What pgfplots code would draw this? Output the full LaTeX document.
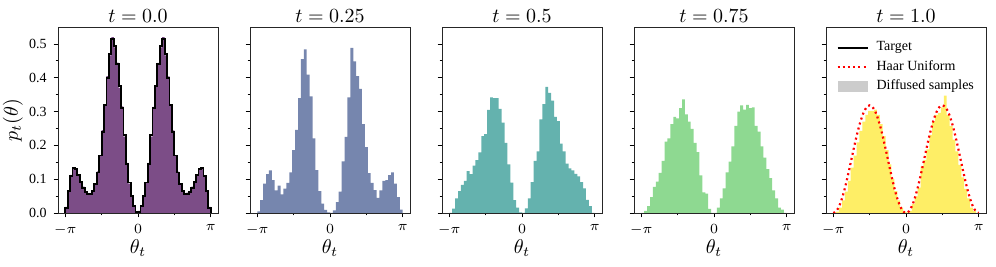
\documentclass[border=0pt]{standalone}
\usepackage{pgfplots}
\pgfplotsset{compat=1.18}
\usepackage{pgfplotstable}
\usepackage{fontspec}
\newfontfamily\tms{Liberation Serif}
\definecolor{c0}{HTML}{7C4D87}
\definecolor{c1}{HTML}{7686AE}
\definecolor{c2}{HTML}{64B2AE}
\definecolor{c3}{HTML}{8ED991}
\definecolor{c4}{HTML}{FEEE66}

% 50-bin histograms for t = 0.25, 0.5, 0.75, 1.0 (left bin edges; last row closes the interval)
\pgfplotstableread{
x a b c d
-3.1416 0.005 0 0 0
-3.0159 0.038 0.013 0.006 0.004
-2.8903 0.087 0.043 0.020 0.016
-2.7646 0.115 0.065 0.047 0.037
-2.6389 0.126 0.083 0.077 0.063
-2.5133 0.097 0.095 0.093 0.095
-2.3876 0.067 0.124 0.119 0.134
-2.2619 0.081 0.115 0.154 0.170
-2.1363 0.055 0.140 0.211 0.209
-2.0106 0.072 0.156 0.221 0.243
-1.8850 0.089 0.179 0.263 0.270
-1.7593 0.120 0.227 0.284 0.290
-1.6336 0.186 0.233 0.280 0.302
-1.5080 0.246 0.305 0.310 0.302
-1.3823 0.340 0.342 0.336 0.306
-1.2566 0.455 0.340 0.292 0.290
-1.1310 0.484 0.340 0.270 0.263
-1.0053 0.409 0.308 0.249 0.227
-0.8796 0.345 0.267 0.207 0.186
-0.7540 0.221 0.207 0.180 0.144
-0.6283 0.127 0.144 0.111 0.100
-0.5027 0.065 0.090 0.061 0.065
-0.3770 0.028 0.038 0.057 0.037
-0.2513 0.009 0.016 0.012 0.016
-0.1257 0.002 0.002 0 0.004
0.0000 0 0 0 0.002
0.1257 0.008 0.014 0.016 0.006
0.2513 0.032 0.043 0.043 0.026
0.3770 0.063 0.091 0.073 0.049
0.5027 0.153 0.154 0.120 0.075
0.6283 0.225 0.182 0.152 0.138
0.7540 0.342 0.277 0.197 0.156
0.8796 0.488 0.322 0.258 0.188
1.0053 0.448 0.373 0.300 0.231
1.1310 0.405 0.355 0.318 0.272
1.2566 0.367 0.332 0.306 0.290
1.3823 0.263 0.284 0.320 0.296
1.5080 0.195 0.272 0.310 0.312
1.6336 0.118 0.205 0.312 0.347
1.7593 0.089 0.182 0.258 0.290
1.8850 0.068 0.146 0.241 0.257
2.0106 0.045 0.132 0.197 0.217
2.1363 0.067 0.126 0.164 0.182
2.2619 0.095 0.116 0.130 0.142
2.3876 0.097 0.108 0.103 0.105
2.5133 0.112 0.091 0.067 0.071
2.6389 0.120 0.073 0.043 0.043
2.7646 0.087 0.039 0.016 0.016
2.8903 0.047 0.020 0.010 0.006
3.0159 0.010 0 0 0
3.1416 0.010 0 0 0
}\hist

% t = 0: target density (step) and diffused samples, 60 bins
\pgfplotstableread{
x tgt smp
-3.1416 0 0
-3.1416 0.015 0.018
-3.0369 0.065 0.062
-2.9322 0.110 0.113
-2.8274 0.133 0.130
-2.7227 0.130 0.128
-2.6180 0.112 0.115
-2.5133 0.092 0.090
-2.4086 0.075 0.078
-2.3038 0.063 0.060
-2.1991 0.057 0.059
-2.0944 0.057 0.055
-1.9897 0.065 0.068
-1.8850 0.085 0.083
-1.7802 0.120 0.123
-1.6755 0.170 0.168
-1.5708 0.240 0.245
-1.4661 0.320 0.316
-1.3614 0.400 0.405
-1.2566 0.470 0.466
-1.1519 0.515 0.520
-1.0472 0.495 0.490
-0.9425 0.440 0.445
-0.8378 0.375 0.370
-0.7330 0.310 0.315
-0.6283 0.230 0.226
-0.5236 0.145 0.148
-0.4189 0.090 0.087
-0.3142 0.050 0.052
-0.2094 0.020 0.018
-0.1047 0.004 0.005
0.0000 0.004 0.006
0.1047 0.020 0.018
0.2094 0.050 0.053
0.3142 0.090 0.088
0.4189 0.145 0.148
0.5236 0.230 0.226
0.6283 0.310 0.314
0.7330 0.375 0.372
0.8378 0.440 0.444
0.9425 0.495 0.490
1.0472 0.515 0.520
1.1519 0.470 0.466
1.2566 0.400 0.404
1.3614 0.320 0.318
1.4661 0.240 0.244
1.5708 0.170 0.168
1.6755 0.120 0.122
1.7802 0.085 0.083
1.8850 0.065 0.067
1.9897 0.057 0.055
2.0944 0.057 0.060
2.1991 0.063 0.061
2.3038 0.075 0.078
2.4086 0.092 0.090
2.5133 0.112 0.115
2.6180 0.130 0.128
2.7227 0.133 0.131
2.8274 0.110 0.112
2.9322 0.065 0.062
3.0369 0.015 0.018
3.1416 0.015 0.018
3.1416 0 0
}\tgt

% Haar uniform density
\pgfplotstableread{
x y
-3.1416 0
-3.0107 0.00542
-2.8798 0.02132
-2.7489 0.04662
-2.6180 0.07958
-2.4871 0.11796
-2.3562 0.15915
-2.2253 0.20035
-2.0944 0.23873
-1.9635 0.27169
-1.8326 0.29698
-1.7017 0.31288
-1.5708 0.31831
-1.4399 0.31288
-1.3090 0.29698
-1.1781 0.27169
-1.0472 0.23873
-0.9163 0.20035
-0.7854 0.15915
-0.6545 0.11796
-0.5236 0.07958
-0.3927 0.04662
-0.2618 0.02132
-0.1309 0.00542
0.0000 0
0.1309 0.00542
0.2618 0.02132
0.3927 0.04662
0.5236 0.07958
0.6545 0.11796
0.7854 0.15915
0.9163 0.20035
1.0472 0.23873
1.1781 0.27169
1.3090 0.29698
1.4399 0.31288
1.5708 0.31831
1.7017 0.31288
1.8326 0.29698
1.9635 0.27169
2.0944 0.23873
2.2253 0.20035
2.3562 0.15915
2.4871 0.11796
2.6180 0.07958
2.7489 0.04662
2.8798 0.02132
3.0107 0.00542
3.1416 0
}\haar

\pgfplotsset{
  panel/.style={
    scale only axis, width=80pt, height=93pt,
    xmin=-3.456, xmax=3.456, ymin=0, ymax=0.55,
    axis line style={line width=0.45pt, black!85},
    tick align=outside, tick pos=left,
    xtick={-3.14159,0,3.14159}, xticklabels={$-\pi$,$0$,$\pi$},
    minor xtick={-1.5708,1.5708},
    ytick={0,0.1,0.2,0.3,0.4,0.5},
    minor ytick={0.05,0.15,0.25,0.35,0.45},
    major tick length=2.2pt, minor tick length=1.2pt,
    tick style={black, line width=0.4pt},
    tick label style={font=\scriptsize},
    /pgf/number format/assume math mode=true,
    yticklabel style={font=\tms\scriptsize, /pgf/number format/.cd, fixed, fixed zerofill, precision=1},
    every axis title/.style={at={(0.5,1)}, anchor=base, yshift=2.2pt, font=\normalsize},
    every axis x label/.style={at={(0.5,0)}, anchor=base, yshift=-20pt, font=\normalsize},
    every axis y label/.style={at={(0,0.5)}, xshift=-20pt, rotate=90, anchor=base, font=\normalsize},
    xlabel={$\theta_t$},
  },
  lline/.style={legend image code/.code={\draw[##1] (0pt,0pt) -- (15pt,0pt); \path (17pt,0pt);}},
  lpatch/.style={legend image code/.code={\fill[##1] (0pt,-2.6pt) rectangle (15pt,2.6pt); \path (17pt,0pt);}},
}

\begin{document}
\begin{tikzpicture}
\begin{axis}[panel, at={(0pt,0pt)}, title={$t=0.0$}, ylabel={$p_t(\theta)$}]
  \addplot[ybar interval, fill=c0, draw=none] table[x=x, y=smp] {\tgt};
  \addplot[const plot, black, line width=0.9pt] table[x=x, y=tgt] {\tgt};
\end{axis}
\begin{axis}[panel, at={(96pt,0pt)}, title={$t=0.25$}, yticklabels={}]
  \addplot[ybar interval, fill=c1, draw=none] table[x=x, y=a] {\hist};
\end{axis}
\begin{axis}[panel, at={(192pt,0pt)}, title={$t=0.5$}, yticklabels={}]
  \addplot[ybar interval, fill=c2, draw=none] table[x=x, y=b] {\hist};
\end{axis}
\begin{axis}[panel, at={(288pt,0pt)}, title={$t=0.75$}, yticklabels={}]
  \addplot[ybar interval, fill=c3, draw=none] table[x=x, y=c] {\hist};
\end{axis}
\begin{axis}[panel, at={(384pt,0pt)}, title={$t=1.0$}, yticklabels={},
  legend style={at={(0.05,0.955)}, anchor=north west, draw=none, fill=none,
    font=\tms\scriptsize, row sep=-0.7pt, inner sep=1pt, cells={anchor=west}}]
  \addplot[ybar interval, fill=c4, draw=none, forget plot] table[x=x, y=d] {\hist};
  \addlegendimage{black, line width=0.9pt, lline}
  \addlegendentry{Target}
  \addplot[red, line width=1.1pt, dash pattern=on 1pt off 1.6pt, smooth, lline] table[x=x, y=y] {\haar};
  \addlegendentry{Haar Uniform}
  \addlegendimage{fill=gray!40, draw=none, lpatch}
  \addlegendentry{Diffused samples}
\end{axis}
\pgfresetboundingbox
\useasboundingbox (-29pt,-27pt) rectangle (469pt,106.5pt);
\end{tikzpicture}
\end{document}
